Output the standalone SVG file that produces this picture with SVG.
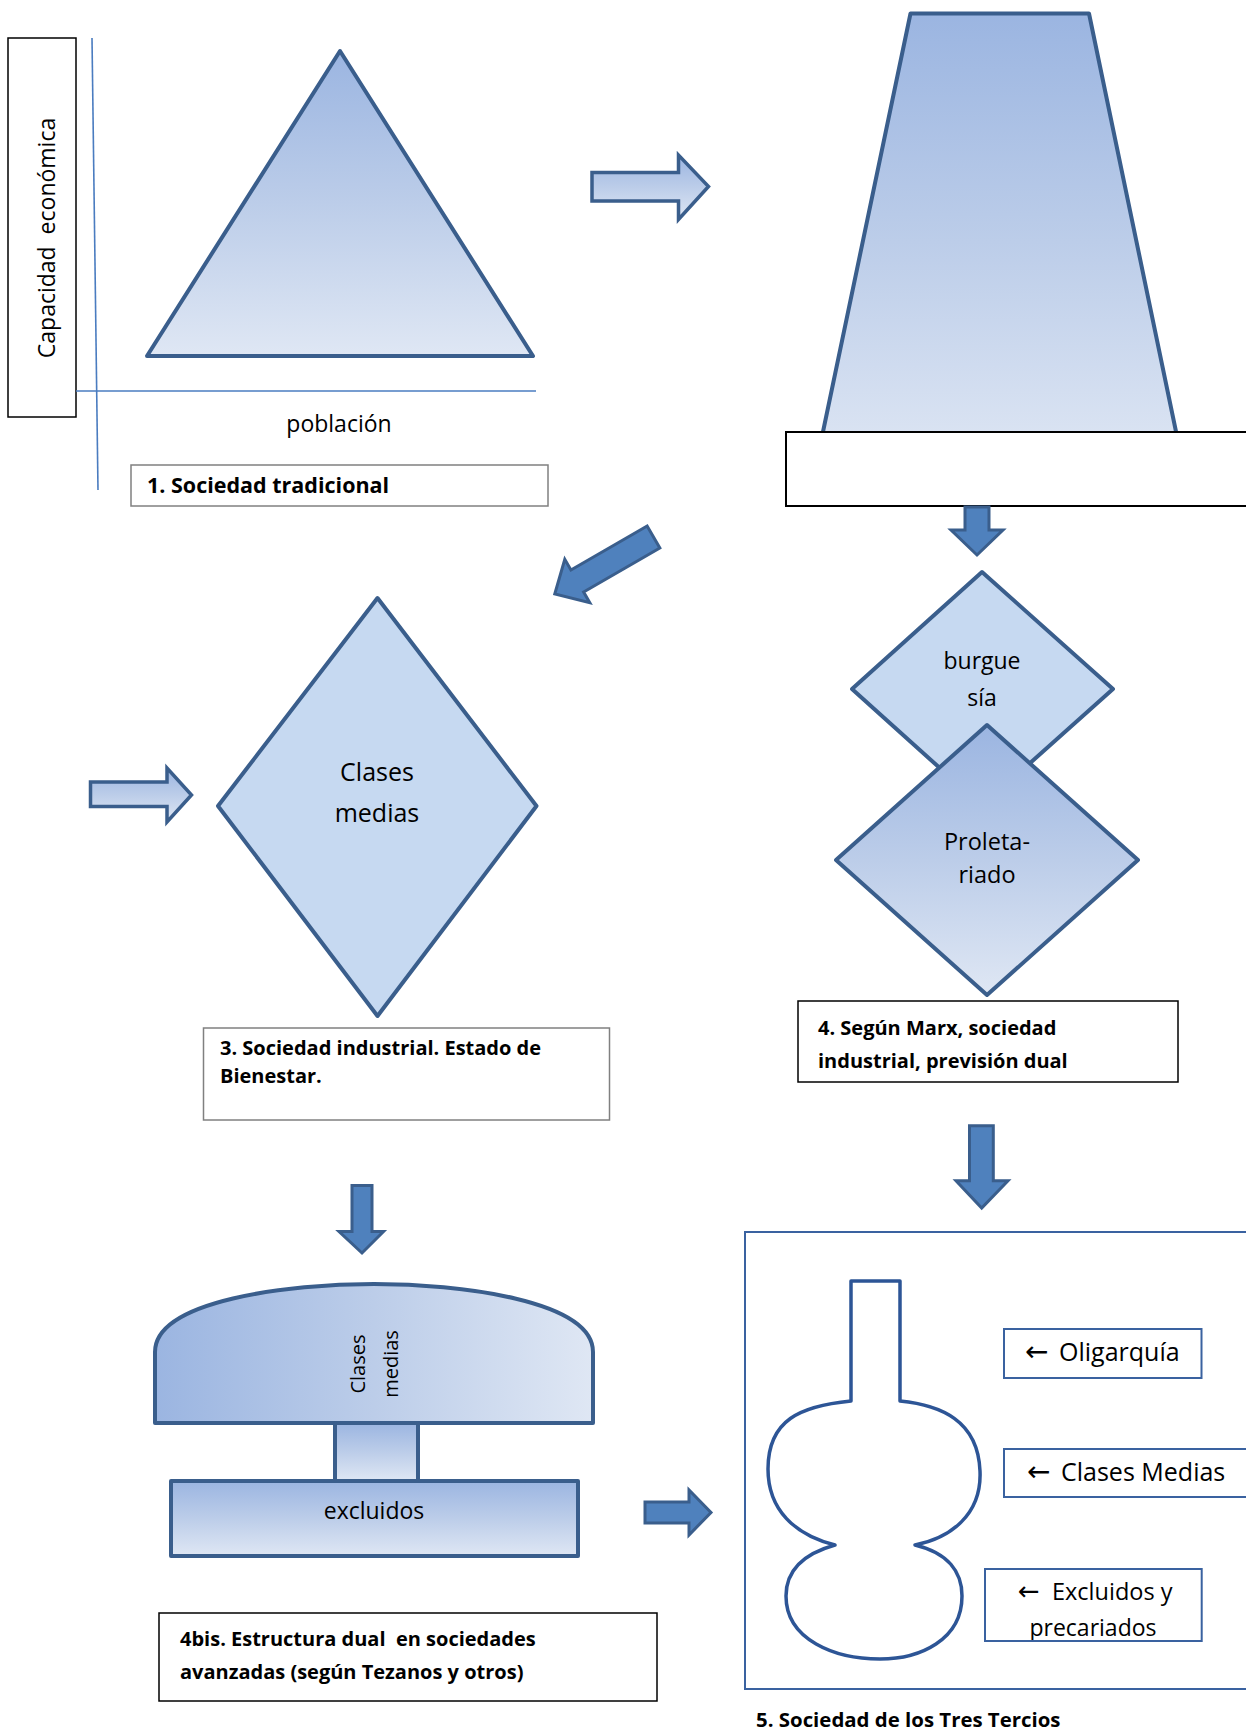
<svg xmlns="http://www.w3.org/2000/svg" width="1246" height="1731" viewBox="0 0 1246 1731">
<style>
  .txt { font-family: "Open Sans", "DejaVu Sans", sans-serif; fill: #000; }
  .b { font-weight: bold; }
  .arr { font-family: "DejaVu Sans", sans-serif; }
  .shape { stroke: #3a5e8c; stroke-width: 4; stroke-linejoin: round; }
  .solid { fill: #4f81bd; stroke: #3a5e8c; stroke-width: 3; stroke-linejoin: miter; }
  .outline { stroke: #3a5e8c; stroke-width: 3.5; stroke-linejoin: miter; }
  .cap { fill: #fff; stroke: #000; stroke-width: 1.5; }
  .capg { fill: #fff; stroke: #808080; stroke-width: 1.5; }
  .lbl { fill: #fff; stroke: #3a62a0; stroke-width: 2; }
  .axis { stroke: #4a7cc0; stroke-width: 1.6; fill: none; }
</style>
<defs>
  <linearGradient id="gv" x1="0" y1="0" x2="0" y2="1">
    <stop offset="0" stop-color="#9bb5e1"/>
    <stop offset="0.5" stop-color="#bccde9"/>
    <stop offset="1" stop-color="#dfe7f4"/>
  </linearGradient>
  <linearGradient id="gh" x1="0" y1="0" x2="1" y2="0">
    <stop offset="0" stop-color="#9bb5e1"/>
    <stop offset="0.5" stop-color="#bccde9"/>
    <stop offset="1" stop-color="#dfe7f4"/>
  </linearGradient>
  <clipPath id="clipExc">
    <rect x="985" y="1569" width="217" height="71"/>
  </clipPath>
</defs>

<!-- Connectors (block arrows) -->
<g id="connectors">
  <path class="outline" fill="url(#gv)" d="M592,172.5 H678.5 V155 L708.5,186.5 L678.5,219.5 V201 H592 Z"/>
  <path class="solid" transform="translate(653.5,537) rotate(150)" d="M0,-12.7 H88 V-25 L114,0 L88,25 V12.7 H0 Z"/>
  <path class="outline" fill="url(#gv)" d="M90.5,782 H167 V768 L191.5,795 L167,822 V806.5 H90.5 Z"/>
  <path class="solid" d="M352,1185.5 H372 V1231.5 H383.5 L362,1253 L339,1231.5 H352 Z"/>
  <path class="solid" d="M645,1502 H689 V1490 L711,1512.5 L689,1535 V1523 H645 Z"/>
  <path class="solid" d="M969.5,1125.7 H993.3 V1180.7 H1008 L981.7,1208 L956,1180.7 H969.5 Z"/>
</g>

<!-- 1. Sociedad tradicional -->
<g id="node-tradicional">
  <rect class="cap" x="8" y="38" width="68" height="379"/>
  <text class="txt" font-size="23" text-anchor="middle" xml:space="preserve" transform="translate(54.5,238) rotate(-90)">Capacidad  económica</text>
  <line class="axis" x1="92" y1="38" x2="98" y2="490"/>
  <line class="axis" x1="76" y1="391" x2="536" y2="391"/>
  <polygon class="shape" fill="url(#gv)" points="340,51 533,356 147,356"/>
  <text class="txt" font-size="23" text-anchor="middle" x="339" y="432">población</text>
  <rect class="capg" x="131" y="465" width="417" height="41"/>
  <text class="txt b" font-size="21.5" x="147" y="493">1. Sociedad tradicional</text>
</g>

<!-- 2. Trapezoid -->
<g id="node-trapecio">
  <polygon class="shape" fill="url(#gv)" points="910.5,13.5 1089,13.5 1184,470 815,470"/>
  <rect x="786" y="432" width="470" height="74" fill="#fff" stroke="#000" stroke-width="2"/>
</g>

<!-- Flow arrow from box 2 (drawn above box) -->
<g id="connector-2">
  <path class="solid" d="M965,507 H989 V530 H1003 L977,555 L951,530 H965 Z"/>
</g>

<!-- 3. Sociedad industrial -->
<g id="node-industrial">
  <polygon class="shape" fill="#c6d9f1" points="377.5,598 536.5,806 377.5,1016 218,806"/>
  <text class="txt" font-size="25" text-anchor="middle" x="377" y="781">Clases</text>
  <text class="txt" font-size="25" text-anchor="middle" x="377" y="822">medias</text>
  <rect class="capg" x="203.5" y="1028" width="406" height="92"/>
  <text class="txt b" font-size="20" x="220" y="1055">3. Sociedad industrial. Estado de</text>
  <text class="txt b" font-size="20" x="220" y="1083">Bienestar.</text>
</g>

<!-- 4. Marx -->
<g id="node-marx">
  <polygon class="shape" fill="#c6d9f1" points="982,572 1113,689 982,806 852,689"/>
  <text class="txt" font-size="23" text-anchor="middle" x="982" y="669">burgue</text>
  <text class="txt" font-size="23" text-anchor="middle" x="982" y="706">sía</text>
  <polygon class="shape" fill="url(#gv)" points="987,725 1138,860 987,995 836,860"/>
  <text class="txt" font-size="23.5" text-anchor="middle" x="987" y="850">Proleta-</text>
  <text class="txt" font-size="23.5" text-anchor="middle" x="987" y="883">riado</text>
  <rect class="cap" x="798" y="1001" width="380" height="81"/>
  <text class="txt b" font-size="20" x="818" y="1034.6">4. Según Marx, sociedad</text>
  <text class="txt b" font-size="20" x="818" y="1068">industrial, previsión dual</text>
</g>

<!-- 4bis. Estructura dual -->
<g id="node-dual">
  <path class="shape" fill="url(#gh)" d="M155,1423 L155,1352 C155,1300 290,1284 374,1284 C458,1284 593,1300 593,1352 L593,1423 Z"/>
  <text class="txt" font-size="20" text-anchor="middle" transform="translate(365,1364) rotate(-90)">Clases</text>
  <text class="txt" font-size="20" text-anchor="middle" transform="translate(398,1364) rotate(-90)">medias</text>
  <rect class="shape" fill="url(#gv)" x="335" y="1423" width="83" height="58"/>
  <rect class="shape" fill="url(#gv)" x="171" y="1481" width="407" height="75"/>
  <text class="txt" font-size="23" text-anchor="middle" x="374" y="1519">excluidos</text>
  <rect class="cap" x="159" y="1613" width="498" height="88"/>
  <text class="txt b" font-size="20" x="180" y="1646" xml:space="preserve">4bis. Estructura dual  en sociedades</text>
  <text class="txt b" font-size="20" x="180" y="1679">avanzadas (según Tezanos y otros)</text>
</g>

<!-- 5. Sociedad de los Tres Tercios -->
<g id="node-tres-tercios">
  <rect x="745" y="1232" width="520" height="457" fill="none" stroke="#3a62a0" stroke-width="2"/>
  <path fill="none" stroke="#2d5596" stroke-width="3.5" stroke-linejoin="round"
        d="M851,1401 V1281 H900 V1401 C940,1405 978,1420 980,1471 C982,1515 950,1538 915,1545 C948,1553 962,1572 962,1596 C962,1640 920,1659 880,1659 C835,1659 786,1640 786,1596 C786,1566 810,1552 835,1545 C795,1535 768,1510 768,1469 C768,1420 800,1406 851,1401 Z"/>
  <rect class="lbl" x="1004" y="1329" width="197.5" height="49"/>
  <text class="txt" font-size="25" y="1361"><tspan class="arr" x="1025" font-size="28">←</tspan><tspan x="1059">Oligarquía</tspan></text>
  <rect class="lbl" x="1004" y="1449" width="260" height="48"/>
  <text class="txt" font-size="25" y="1481"><tspan class="arr" x="1027" font-size="28">←</tspan><tspan x="1061">Clases Medias</tspan></text>
  <rect class="lbl" x="985" y="1569" width="216.7" height="72"/>
  <text class="txt" font-size="23.5" y="1600"><tspan class="arr" x="1018" font-size="26">←</tspan><tspan x="1052">Excluidos y</tspan></text>
  <text class="txt" font-size="23" text-anchor="middle" x="1093" y="1636" clip-path="url(#clipExc)">precariados</text>
  <text class="txt b" font-size="20.4" x="756" y="1727">5. Sociedad de los Tres Tercios</text>
</g>
</svg>
